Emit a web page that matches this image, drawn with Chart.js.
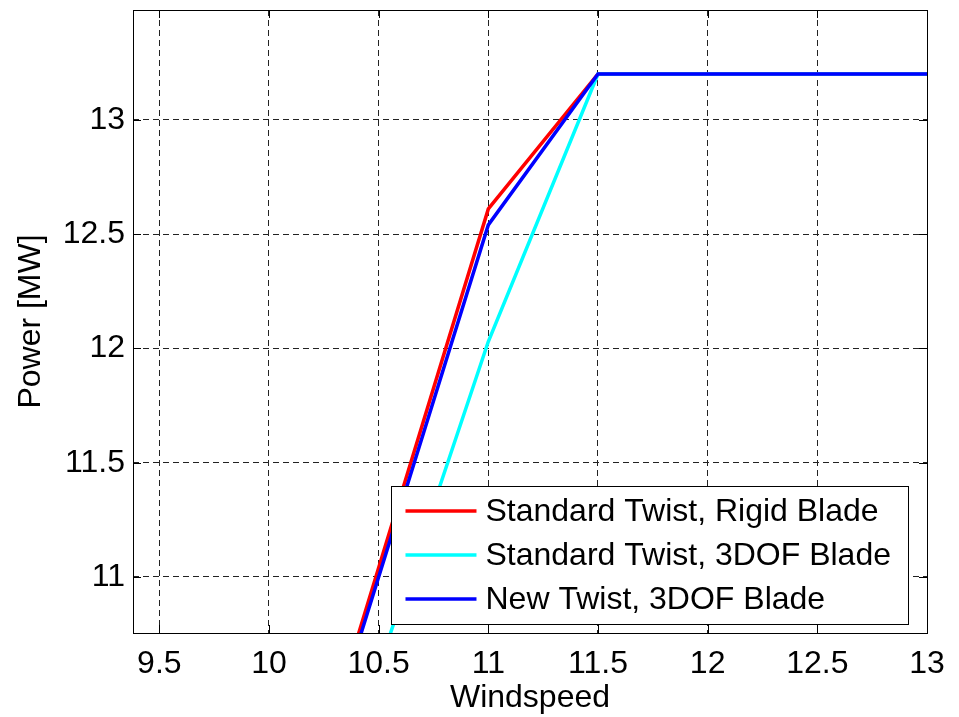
<!DOCTYPE html>
<html>
<head>
<meta charset="utf-8">
<script src="https://cdn.jsdelivr.net/npm/chart.js@4.4.1/dist/chart.umd.min.js"></script>
<style>
  html, body { margin: 0; padding: 0; background: #fff; }
  #wrap { width: 959px; height: 717px; }
</style>
</head>
<body>
<div id="wrap"><canvas id="chart" width="959" height="717"></canvas></div>
<script>
// windspeed samples
const windspeed = [10, 10.5, 11, 11.5, 12, 12.5, 13, 13.5];

// power [MW]
const rigidStd = [9.47, 11.04, 12.61, 13.2, 13.2, 13.2, 13.2, 13.2];
const flexStd  = [9.17, 10.60, 12.03, 13.2, 13.2, 13.2, 13.2, 13.2];
const flexNew  = [9.46, 11.0, 12.54, 13.2, 13.2, 13.2, 13.2, 13.2];

const seriesNames = [
  "Standard Twist, Rigid Blade",
  "Standard Twist, 3DOF Blade",
  "New Twist, 3DOF Blade"
];
const seriesColors = ["#ff0000", "#00ffff", "#0000ff"];

const xTicks = [9.5, 10, 10.5, 11, 11.5, 12, 12.5, 13];
const yTicks = [11, 11.5, 12, 12.5, 13];

const FONT = "'Liberation Sans', Arial, Helvetica, sans-serif";
const FS = 32;

function pts(vals) {
  return windspeed.map((x, i) => ({ x: x, y: vals[i] }));
}

// frame, inward ticks and the legend box, MATLAB style
const matlabFrame = {
  id: "matlabFrame",
  afterDatasetsDraw(chart) {
    const ctx = chart.ctx;
    const a = chart.chartArea;
    const xs = chart.scales.x, ys = chart.scales.y;
    const tl = 8;
    ctx.save();
    ctx.strokeStyle = "#000";
    ctx.lineWidth = 1;
    ctx.beginPath();
    xTicks.forEach(v => {
      const px = Math.round(xs.getPixelForValue(v)) + 0.5;
      ctx.moveTo(px, a.bottom); ctx.lineTo(px, a.bottom - tl);
      ctx.moveTo(px, a.top); ctx.lineTo(px, a.top + tl);
    });
    yTicks.forEach(v => {
      const py = Math.round(ys.getPixelForValue(v)) + 0.5;
      ctx.moveTo(a.left, py); ctx.lineTo(a.left + tl, py);
      ctx.moveTo(a.right, py); ctx.lineTo(a.right - tl, py);
    });
    ctx.stroke();

    // legend
    ctx.font = FS + "px " + FONT;
    let maxW = 0;
    seriesNames.forEach(n => { maxW = Math.max(maxW, ctx.measureText(n).width); });
    const w = 94 + maxW + 17;
    const h = 138;
    const right = a.right - 19;
    const bottom = a.bottom - 9;
    const left = right - w, top = bottom - h;
    ctx.fillStyle = "#fff";
    ctx.fillRect(left, top, w, h);
    ctx.strokeRect(Math.round(left) + 0.5, Math.round(top) + 0.5, Math.round(w), Math.round(h));
    ctx.textBaseline = "middle";
    ctx.textAlign = "left";
    seriesNames.forEach((n, i) => {
      const cy = top + 25 + i * 44;
      ctx.strokeStyle = seriesColors[i];
      ctx.lineWidth = 3.5;
      ctx.beginPath();
      ctx.moveTo(left + 14, cy); ctx.lineTo(left + 85, cy);
      ctx.stroke();
      ctx.fillStyle = "#000";
      ctx.fillText(n, left + 94, cy + 1);
    });

    ctx.strokeStyle = "#000";
    ctx.lineWidth = 1;
    ctx.strokeRect(Math.round(a.left) + 0.5, Math.round(a.top) + 0.5,
                   Math.round(a.right - a.left), Math.round(a.bottom - a.top));
    ctx.restore();
  }
};

const lineDs = (i, vals, order) => ({
  label: seriesNames[i],
  data: pts(vals),
  borderColor: seriesColors[i],
  backgroundColor: seriesColors[i],
  borderWidth: 3.5,
  pointRadius: 0,
  tension: 0,
  order: order
});

new Chart(document.getElementById("chart"), {
  type: "line",
  data: {
    datasets: [
      lineDs(0, rigidStd, 2),
      lineDs(1, flexStd, 1),
      lineDs(2, flexNew, 0)
    ]
  },
  options: {
    responsive: false,
    animation: false,
    events: [],
    layout: { padding: { top: 10, right: 32, left: 0, bottom: 0 } },
    plugins: { legend: { display: false }, tooltip: { enabled: false } },
    scales: {
      x: {
        type: "linear",
        min: 9.38,
        max: 13,
        afterBuildTicks: s => { s.ticks = xTicks.map(v => ({ value: v })); },
        afterFit: s => { s.height = 84; s.paddingLeft = 0; s.paddingRight = 0; },
        border: { display: false, dash: [6, 4] },
        grid: { color: "#222", lineWidth: 1, drawTicks: false },
        ticks: {
          color: "#000",
          padding: 12,
          maxRotation: 0,
          font: { family: FONT, size: FS },
          callback: v => String(v)
        },
        title: {
          display: true,
          text: "Windspeed",
          color: "#000",
          padding: { top: 0, bottom: 0 },
          font: { family: FONT, size: FS }
        }
      },
      y: {
        type: "linear",
        min: 10.755,
        max: 13.48,
        afterBuildTicks: s => { s.ticks = yTicks.map(v => ({ value: v })); },
        afterFit: s => { s.width = 133; s.paddingTop = 0; s.paddingBottom = 0; },
        border: { display: false, dash: [6, 4] },
        grid: { color: "#222", lineWidth: 1, drawTicks: false },
        ticks: {
          color: "#000",
          padding: 8,
          font: { family: FONT, size: FS },
          callback: v => String(v)
        },
        title: {
          display: true,
          text: "Power [MW]",
          color: "#000",
          padding: { top: 12, bottom: 0 },
          font: { family: FONT, size: FS }
        }
      }
    }
  },
  plugins: [matlabFrame]
});
</script>
</body>
</html>
